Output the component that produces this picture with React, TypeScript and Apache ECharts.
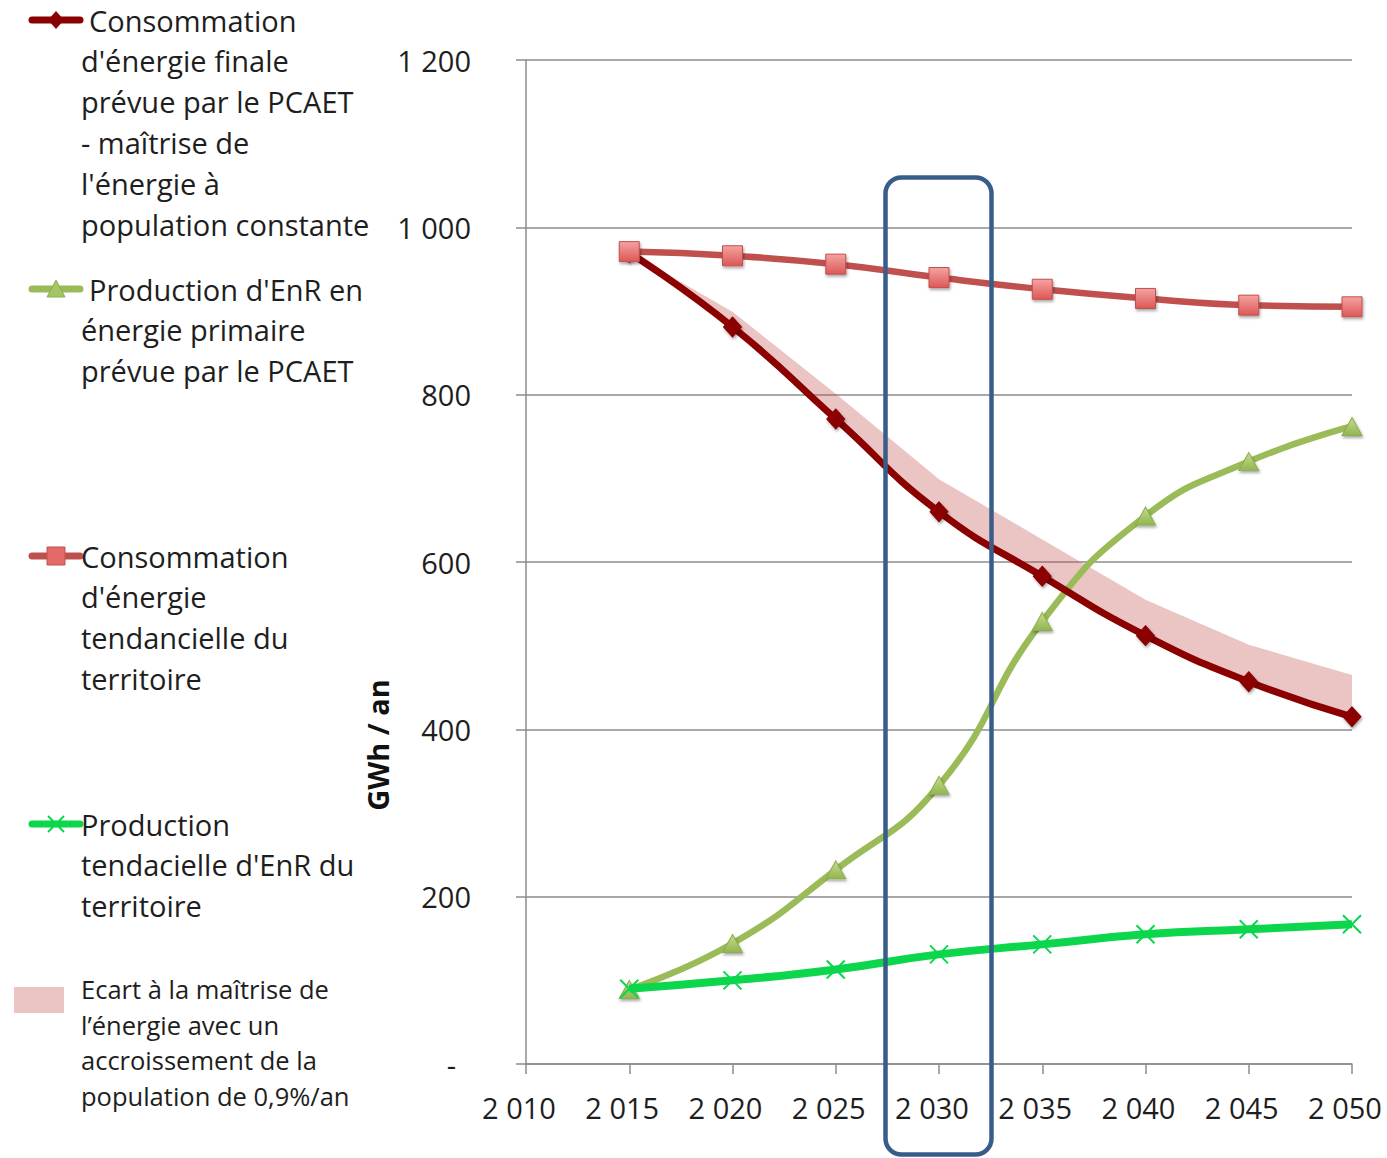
import React, { useEffect, useRef } from "react";
import * as echarts from "echarts";

// ---- Data ----
const years = [2015, 2020, 2025, 2030, 2035, 2040, 2045, 2050];
const consoPCAET = [970, 881, 771, 660, 583, 512, 457, 415];
const consoTendancielle = [971, 966, 956, 940, 926, 915, 907, 905];
const prodEnRPCAET = [89, 144, 232, 333, 529, 655, 720, 762];
const prodEnRTendancielle = [90, 100, 113, 131, 143, 155, 161, 167];
const ecartHaut = [970, 899, 801, 699, 627, 555, 501, 465];

const xMin = 2010;
const xMax = 2050;
const xStep = 5;
const yMin = 0;
const yMax = 1200;
const yStep = 200;

const nameConsoPCAET =
  "Consommation d'énergie finale prévue par le PCAET - maîtrise de l'énergie à population constante";
const nameProdPCAET = "Production d'EnR en énergie primaire prévue par le PCAET";
const nameConsoTend = "Consommation d'énergie tendancielle du territoire";
const nameProdTend = "Production tendacielle d'EnR du territoire";
const nameEcart =
  "Ecart à la maîtrise de l’énergie avec un accroissement de la population de 0,9%/an";

const legendLines1 = ["Consommation", "d'énergie finale", "prévue par le PCAET", "- maîtrise de", "l'énergie à", "population constante"];
const legendLines2 = ["Production d'EnR en", "énergie primaire", "prévue par le PCAET"];
const legendLines3 = ["Consommation", "d'énergie", "tendancielle du", "territoire"];
const legendLines4 = ["Production", "tendacielle d'EnR du", "territoire"];
const legendLines5 = ["Ecart à la maîtrise de", "l’énergie avec un", "accroissement de la", "population de 0,9%/an"];
const yAxisTitle = "GWh / an";

const FONT = '"Open Sans", "DejaVu Sans", sans-serif';
const TEXT = "#1e1e1e";

const C_DARK = "#8B0000";
const C_RED = "#C0504D";
const C_OLIVE = "#9BBB59";
const C_GREEN = "#0BD64C";
const C_BAND = "rgba(192,80,77,0.33)";
const C_BOX = "#385D8A";

const fmtThousands = (v: number) =>
  String(v).replace(/\B(?=(\d{3})+(?!\d))/g, " ");

const pairs = (vals: number[]) => years.map((y, i) => [y, vals[i]]);

function legendText(lines: string[], y0: number, firstX: number, lh: number, size: number) {
  return lines.map((t, i) => ({
    type: "text",
    x: i === 0 ? firstX : 81,
    y: y0 + i * lh,
    style: {
      text: t,
      font: `${size}px ${FONT}`,
      fill: TEXT,
      align: "left",
      verticalAlign: "middle",
    },
  }));
}

function iconLine(y: number, color: string, w: number) {
  return {
    type: "line",
    shape: { x1: 32, y1: y, x2: 80, y2: y },
    style: { stroke: color, lineWidth: w, lineCap: "round" },
  };
}

export default function App() {
  const ref = useRef<HTMLDivElement>(null);

  useEffect(() => {
    document.body.style.margin = "0";
    if (!ref.current) return;
    const chart = echarts.init(ref.current, undefined, { renderer: "svg" });

    const shadow = {
      shadowBlur: 3,
      shadowColor: "rgba(0,0,0,0.35)",
      shadowOffsetX: 1,
      shadowOffsetY: 2,
    };

    const graphic: any[] = [
      iconLine(20, C_DARK, 7),
      {
        type: "polygon",
        shape: { points: [[56, 11], [64, 20], [56, 29], [48, 20]] },
        style: { fill: C_DARK },
      },
      ...legendText(legendLines1, 20, 89, 40.8, 29),
      iconLine(289, C_OLIVE, 7),
      {
        type: "polygon",
        shape: { points: [[56, 280], [65, 297], [47, 297]] },
        style: { fill: "#a6c566", stroke: "#8cae4c", lineWidth: 1 },
      },
      ...legendText(legendLines2, 289, 89, 40.8, 29),
      iconLine(556, C_RED, 7),
      {
        type: "rect",
        shape: { x: 47, y: 547, width: 18, height: 18 },
        style: { fill: "#e46a67", stroke: C_RED, lineWidth: 1 },
      },
      ...legendText(legendLines3, 556, 81, 40.8, 29),
      iconLine(824, C_GREEN, 7),
      {
        type: "line",
        shape: { x1: 48, y1: 816, x2: 64, y2: 832 },
        style: { stroke: C_GREEN, lineWidth: 2 },
      },
      {
        type: "line",
        shape: { x1: 64, y1: 816, x2: 48, y2: 832 },
        style: { stroke: C_GREEN, lineWidth: 2 },
      },
      ...legendText(legendLines4, 824, 81, 40.8, 29),
      {
        type: "rect",
        shape: { x: 14, y: 987, width: 50, height: 26 },
        style: { fill: C_BAND },
      },
      ...legendText(legendLines5, 989, 81, 35.7, 25.5),
      {
        type: "text",
        x: 377,
        y: 745,
        rotation: Math.PI / 2,
        style: {
          text: yAxisTitle,
          font: `bold 29px ${FONT}`,
          fill: "#111",
          align: "center",
          verticalAlign: "middle",
        },
      },
      {
        type: "rect",
        z: 100,
        shape: { x: 885.5, y: 177.5, width: 106, height: 977, r: 16 },
        style: { fill: "none", stroke: C_BOX, lineWidth: 4.5 },
      },
    ];

    chart.setOption({
      animation: false,
      backgroundColor: "#ffffff",
      textStyle: { fontFamily: FONT },
      grid: { left: 526, right: 35, top: 60, bottom: 94 },
      xAxis: {
        type: "value",
        min: xMin,
        max: xMax,
        interval: xStep,
        axisLine: { show: true, lineStyle: { color: "#8c8c8c", width: 1.5 } },
        axisTick: { show: true, length: 10, lineStyle: { color: "#8c8c8c", width: 1.5 } },
        splitLine: { show: false },
        axisLabel: {
          formatter: (v: number) => fmtThousands(v),
          fontSize: 29,
          color: TEXT,
          fontFamily: FONT,
          margin: 29,
          padding: [0, 14, 0, 0],
        },
      },
      yAxis: {
        type: "value",
        min: yMin,
        max: yMax,
        interval: yStep,
        axisLine: { show: true, lineStyle: { color: "#8c8c8c", width: 1.5 } },
        axisTick: { show: true, length: 10, lineStyle: { color: "#8c8c8c", width: 1.5 } },
        splitLine: { show: true, lineStyle: { color: "#8c8c8c", width: 1.5 } },
        axisLabel: {
          formatter: (v: number) => (v === 0 ? "{z|-}" : fmtThousands(v)),
          fontSize: 29,
          color: TEXT,
          fontFamily: FONT,
          margin: 55,
          rich: { z: { fontSize: 29, color: TEXT, fontFamily: FONT, padding: [0, 15, 0, 0] } },
        },
      },
      graphic,
      series: [
        {
          name: nameProdPCAET,
          type: "line",
          smooth: true,
          data: pairs(prodEnRPCAET),
          symbol: "triangle",
          symbolSize: [20, 18],
          lineStyle: { color: C_OLIVE, width: 6.5 },
          itemStyle: {
            color: new echarts.graphic.LinearGradient(0, 0, 0, 1, [
              { offset: 0, color: "#c4dd8f" },
              { offset: 1, color: "#92b550" },
            ]),
            borderColor: "#8cae4c",
            borderWidth: 1,
            ...shadow,
          },
          z: 2,
        },
        {
          name: nameEcart,
          type: "custom",
          data: years.map((y, i) => [y, consoPCAET[i], ecartHaut[i]]),
          encode: { x: 0, y: [1, 2] },
          silent: true,
          z: 2,
          renderItem: (params: any, api: any) => {
            if (params.dataIndex !== 0) return null;
            const upper = years.map((y, i) => api.coord([y, ecartHaut[i]]));
            const lower = years.map((y, i) => api.coord([y, consoPCAET[i]])).reverse();
            return {
              type: "polygon",
              shape: { points: upper.concat(lower) },
              style: { fill: C_BAND },
            };
          },
        },
        {
          name: nameConsoPCAET,
          type: "line",
          smooth: true,
          data: pairs(consoPCAET),
          symbol: "diamond",
          symbolSize: [18, 20],
          lineStyle: { color: C_DARK, width: 7 },
          itemStyle: { color: C_DARK, borderColor: C_DARK, borderWidth: 1, ...shadow },
          z: 3,
        },
        {
          name: nameConsoTend,
          type: "line",
          smooth: true,
          data: pairs(consoTendancielle),
          symbol: "rect",
          symbolSize: 20,
          lineStyle: { color: C_RED, width: 6.5 },
          itemStyle: {
            color: new echarts.graphic.LinearGradient(0, 0, 0, 1, [
              { offset: 0, color: "#f5a3a1" },
              { offset: 1, color: "#dc5855" },
            ]),
            borderColor: C_RED,
            borderWidth: 1,
            ...shadow,
          },
          z: 3,
        },
        {
          name: nameProdTend,
          type: "line",
          smooth: true,
          data: pairs(prodEnRTendancielle),
          symbol: "path://M0,0L10,10M10,0L0,10",
          symbolSize: 18,
          lineStyle: { color: C_GREEN, width: 8 },
          itemStyle: { color: "none", borderColor: C_GREEN, borderWidth: 2 },
          z: 4,
        },
      ],
    });

    return () => chart.dispose();
  }, []);

  return <div ref={ref} style={{ width: 1387, height: 1158 }} />;
}
